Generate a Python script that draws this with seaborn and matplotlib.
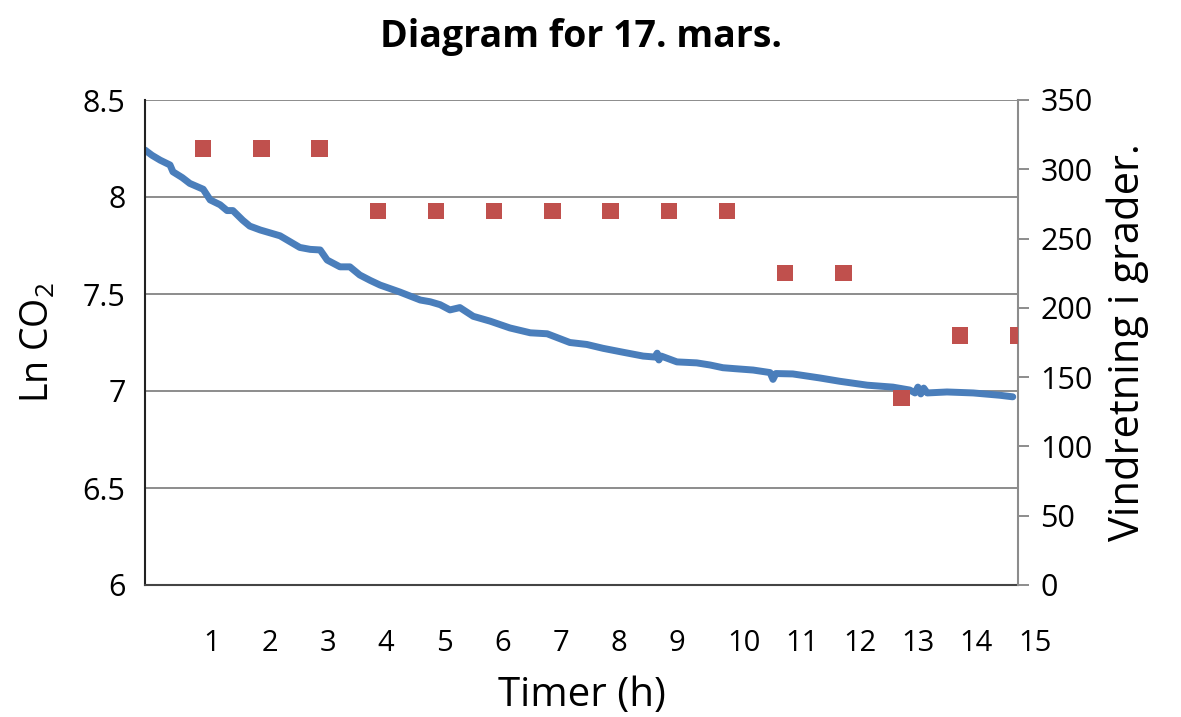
import matplotlib
matplotlib.use("Agg")
import matplotlib.pyplot as plt
import matplotlib.transforms as mtransforms
import seaborn as sns
import pandas as pd

# ---- data ----
hours = [0.00, 0.12, 0.26, 0.43, 0.48, 0.64, 0.77, 1.00, 1.12, 1.29, 1.41, 1.51,
         1.68, 1.80, 1.98, 2.15, 2.32, 2.66, 2.84, 3.01, 3.13, 3.35, 3.52, 3.69,
         3.87, 4.04, 4.38, 4.73, 4.90, 5.07, 5.24, 5.41, 5.64, 5.93, 6.27, 6.62,
         6.91, 7.30, 7.59, 7.87, 8.21, 8.56, 8.76, 8.80, 8.83, 8.87, 9.14, 9.48,
         9.71, 9.93, 10.14, 10.45, 10.74, 10.79, 10.84, 11.13, 11.60, 11.94, 12.41,
         12.85, 13.14, 13.23, 13.28, 13.33, 13.38, 13.44, 13.78, 14.23, 14.69, 14.91]
ln_co2 = [8.242, 8.215, 8.19, 8.165, 8.13, 8.10, 8.07, 8.04, 7.985, 7.96, 7.93, 7.93,
          7.88, 7.85, 7.83, 7.815, 7.80, 7.74, 7.73, 7.727, 7.675, 7.64, 7.64, 7.598,
          7.57, 7.546, 7.51, 7.469, 7.46, 7.445, 7.418, 7.43, 7.385, 7.36, 7.325, 7.30,
          7.295, 7.25, 7.24, 7.22, 7.20, 7.18, 7.175, 7.195, 7.16, 7.18, 7.15, 7.145,
          7.134, 7.12, 7.115, 7.108, 7.095, 7.06, 7.09, 7.088, 7.067, 7.05, 7.03,
          7.02, 7.005, 6.99, 7.02, 6.985, 7.015, 6.99, 6.995, 6.99, 6.978, 6.97]

wind_hours = [1, 2, 3, 4, 5, 6, 7, 8, 9, 10, 11, 12, 13, 14, 15]
wind_dir = [315, 315, 315, 270, 270, 270, 270, 270, 270, 270, 225, 225, 135, 180, 180]

x_ticks = list(range(1, 16))
x_tick_labels = [str(v) for v in x_ticks]
left_ticks = [6, 6.5, 7, 7.5, 8, 8.5]
left_tick_labels = ["6", "6.5", "7", "7.5", "8", "8.5"]
right_ticks = [0, 50, 100, 150, 200, 250, 300, 350]

title = "Diagram for 17. mars."
xlabel = "Timer (h)"
ylabel_left = "Ln CO$_2$"
ylabel_right = "Vindretning i grader."

df_line = pd.DataFrame({"t": hours, "v": ln_co2})
df_wind = pd.DataFrame({"t": wind_hours, "d": wind_dir})

sns.set_theme(style="white")
MAIN = "Open Sans"
plt.rcParams["font.family"] = [MAIN, "DejaVu Sans"]
plt.rcParams["mathtext.fontset"] = "custom"
plt.rcParams["mathtext.rm"] = MAIN
plt.rcParams["text.color"] = "black"
plt.rcParams["axes.labelcolor"] = "black"
plt.rcParams["xtick.color"] = "black"
plt.rcParams["ytick.color"] = "black"

fig = plt.figure(figsize=(11.81, 7.17), dpi=100)
ax = fig.add_axes([145 / 1181, 1 - 585 / 717, (1018 - 145) / 1181, (585 - 100) / 717])

sns.lineplot(data=df_line, x="t", y="v", ax=ax, sort=False, estimator=None,
             color="#4a7ebb", linewidth=5, solid_joinstyle="round",
             solid_capstyle="round")
ax.set_xlim(0, 15)
ax.set_ylim(6, 8.5)
ax.set_yticks(left_ticks)
ax.set_yticklabels(left_tick_labels, fontsize=22)
ax.yaxis.grid(True, color="#8c8c8c", linewidth=1.4)
ax.set_axisbelow(True)

ax.set_xticks(x_ticks)
ax.set_xticklabels(x_tick_labels, fontsize=21, ha="left")
offset = mtransforms.ScaledTranslation(2 / 100, 0, fig.dpi_scale_trans)
for lbl in ax.get_xticklabels():
    lbl.set_transform(lbl.get_transform() + offset)
ax.tick_params(axis="x", length=0, pad=32)
ax.tick_params(axis="y", length=0, pad=14)

ax.set_xlabel(xlabel, fontsize=29, labelpad=12)
ax.set_ylabel(ylabel_left, fontsize=27, labelpad=18)
ax.set_title(title, fontsize=27, fontweight="bold", pad=38)

ax.spines["top"].set_visible(False)
ax.spines["left"].set_color("#222222")
ax.spines["left"].set_linewidth(1.5)
ax.spines["bottom"].set_color("#444444")
ax.spines["bottom"].set_linewidth(1.5)
ax.spines["right"].set_visible(False)

ax2 = ax.twinx()
sns.scatterplot(data=df_wind, x="t", y="d", ax=ax2, marker="s", s=140,
                color="#c0504d", edgecolor="none", zorder=5)
ax2.set_ylim(0, 350)
ax2.set_yticks(right_ticks)
ax2.set_yticklabels([str(v) for v in right_ticks], fontsize=22)
ax2.set_ylabel(ylabel_right, fontsize=30, labelpad=10)
ax2.tick_params(axis="y", direction="out", length=8, width=1.4, color="#8c8c8c",
                labelcolor="black", pad=8)
for s in ["top", "left", "bottom"]:
    ax2.spines[s].set_visible(False)
ax2.spines["right"].set_color("#8c8c8c")
ax2.spines["right"].set_linewidth(1.5)
ax2.set_xlim(0, 15)

fig.savefig("out.png", dpi=100)
